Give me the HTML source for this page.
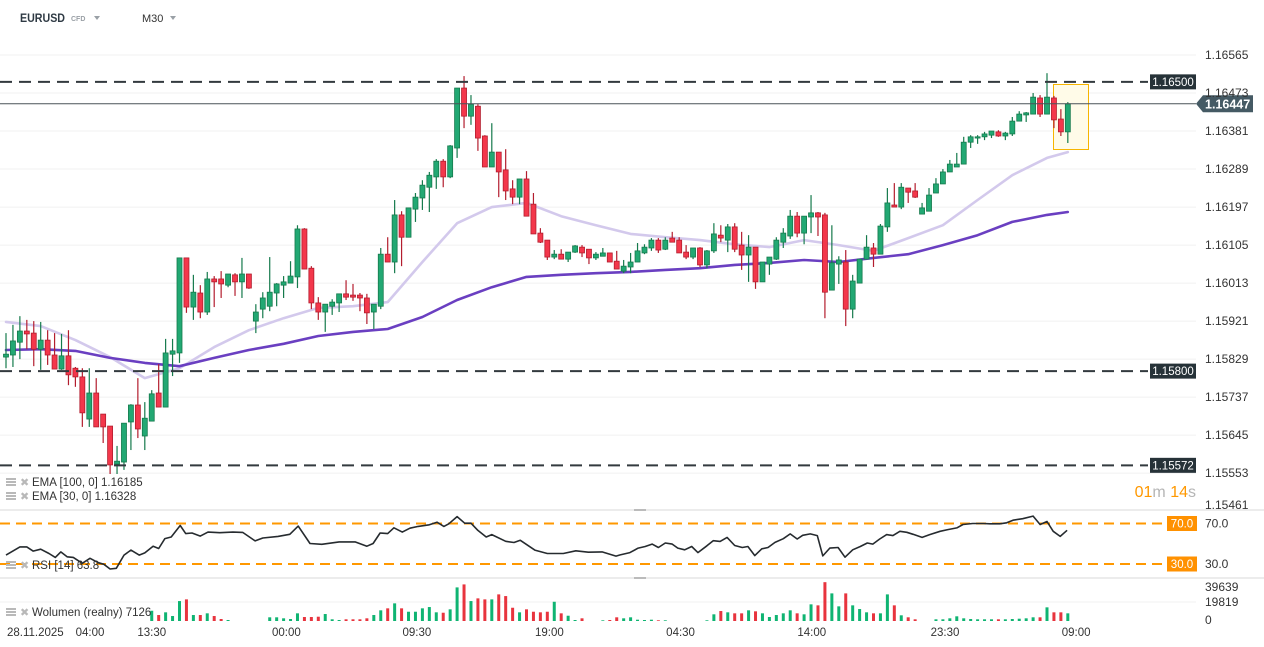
<!DOCTYPE html>
<html><head><meta charset="utf-8"><style>
html,body{margin:0;padding:0;background:#fff;overflow:hidden}
svg{display:block;font-family:"Liberation Sans",Arial,sans-serif}
</style></head><body>
<svg id="chart" width="1264" height="647" viewBox="0 0 1264 647" xmlns="http://www.w3.org/2000/svg">
<rect x="0" y="0" width="1264" height="647" fill="#fff"/>
<g>
<text x="20" y="22" font-size="11.5" font-weight="bold" fill="#2f3a44" textLength="45" lengthAdjust="spacingAndGlyphs">EURUSD</text>
<text x="71" y="21" font-size="7" font-weight="bold" fill="#9aa0a6">CFD</text>
<path d="M94 16 L100 16 L97 20 Z" fill="#9aa0a6"/>
<text x="142" y="22" font-size="11" fill="#333">M30</text>
<path d="M170 16 L176 16 L173 20 Z" fill="#9aa0a6"/>
</g>
<g id="grid"></g>
<g id="emas"></g>
<g id="candles"></g>
<g id="levels"></g>
<g id="axis"></g>
<g id="rsi"></g>
<g id="vol"></g>
<g id="time"></g>
<g id="legend"></g>
</svg>
<script>
const opens=[1.15834,1.15839,1.15870,1.15897,1.15892,1.15853,1.15875,1.15839,1.15805,1.15837,1.15807,1.15786,1.15684,1.15747,1.15696,1.15667,1.15575,1.15580,1.15677,1.15718,1.15643,1.15679,1.15747,1.15713,1.15841,1.15844,1.16074,1.15955,1.15989,1.15943,1.16023,1.16023,1.16008,1.16033,1.16016,1.16035,1.15921,1.15950,1.15957,1.15989,1.16008,1.16013,1.16028,1.16144,1.16049,1.15965,1.15943,1.15957,1.15965,1.15987,1.15984,1.15984,1.15977,1.15943,1.15957,1.16083,1.16064,1.16178,1.16124,1.16192,1.16219,1.16245,1.16270,1.16308,1.16270,1.16340,1.16485,1.16417,1.16441,1.16369,1.16294,1.16330,1.16287,1.16241,1.16221,1.16265,1.16204,1.16134,1.16117,1.16076,1.16083,1.16071,1.16088,1.16100,1.16095,1.16074,1.16078,1.16086,1.16066,1.16042,1.16052,1.16064,1.16086,1.16098,1.16117,1.16095,1.16122,1.16117,1.16088,1.16076,1.16098,1.16057,1.16091,1.16129,1.16117,1.16149,1.16105,1.16081,1.16100,1.16016,1.16059,1.16071,1.16112,1.16127,1.16175,1.16134,1.16173,1.16183,1.16178,1.15996,1.16059,1.16064,1.15950,1.16013,1.16071,1.16098,1.16083,1.16149,1.16202,1.16197,1.16243,1.16236,1.16180,1.16187,1.16231,1.16253,1.16282,1.16294,1.16301,1.16354,1.16364,1.16367,1.16371,1.16379,1.16369,1.16374,1.16405,1.16420,1.16422,1.16461,1.16422,1.16461,1.16410,1.16379];
const highs=[1.15892,1.15912,1.15933,1.15924,1.15921,1.15919,1.15899,1.15892,1.15890,1.15899,1.15810,1.15807,1.15807,1.15783,1.15696,1.15667,1.15619,1.15674,1.15720,1.15783,1.15725,1.15754,1.15817,1.15878,1.15878,1.16074,1.16074,1.16033,1.16008,1.16040,1.16030,1.16042,1.16035,1.16037,1.16074,1.16035,1.15962,1.15991,1.16076,1.16013,1.16030,1.16066,1.16153,1.16146,1.16054,1.15979,1.15962,1.15974,1.15987,1.16020,1.16011,1.15989,1.15987,1.15962,1.16098,1.16124,1.16214,1.16187,1.16195,1.16231,1.16262,1.16282,1.16313,1.16313,1.16347,1.16485,1.16514,1.16468,1.16446,1.16371,1.16400,1.16330,1.16337,1.16262,1.16265,1.16284,1.16231,1.16146,1.16117,1.16093,1.16095,1.16088,1.16105,1.16105,1.16095,1.16088,1.16098,1.16086,1.16091,1.16069,1.16086,1.16110,1.16107,1.16122,1.16122,1.16124,1.16137,1.16124,1.16105,1.16093,1.16100,1.16093,1.16158,1.16153,1.16156,1.16158,1.16137,1.16129,1.16100,1.16064,1.16076,1.16124,1.16146,1.16190,1.16185,1.16175,1.16226,1.16185,1.16183,1.16153,1.16078,1.16093,1.16033,1.16071,1.16129,1.16110,1.16156,1.16243,1.16255,1.16255,1.16243,1.16255,1.16207,1.16243,1.16267,1.16289,1.16311,1.16328,1.16367,1.16371,1.16371,1.16379,1.16381,1.16383,1.16379,1.16415,1.16429,1.16427,1.16473,1.16468,1.16521,1.16466,1.16434,1.16451];
const lows=[1.15807,1.15810,1.15829,1.15853,1.15812,1.15803,1.15815,1.15805,1.15803,1.15766,1.15762,1.15665,1.15665,1.15665,1.15626,1.15551,1.15551,1.15561,1.15609,1.15638,1.15609,1.15679,1.15713,1.15713,1.15788,1.15820,1.15941,1.15924,1.15928,1.15936,1.15955,1.15977,1.16003,1.15982,1.15977,1.15999,1.15892,1.15928,1.15945,1.15957,1.15977,1.16013,1.16001,1.16047,1.15950,1.15924,1.15895,1.15936,1.15943,1.15972,1.15970,1.15945,1.15914,1.15902,1.15950,1.16064,1.16037,1.16054,1.16124,1.16161,1.16190,1.16185,1.16241,1.16245,1.16267,1.16316,1.16388,1.16396,1.16333,1.16294,1.16294,1.16221,1.16214,1.16204,1.16204,1.16175,1.16132,1.16110,1.16069,1.16071,1.16071,1.16064,1.16086,1.16076,1.16059,1.16069,1.16078,1.16064,1.16047,1.16037,1.16037,1.16064,1.16083,1.16091,1.16086,1.16093,1.16112,1.16086,1.16071,1.16071,1.16052,1.16049,1.16086,1.16112,1.16088,1.16088,1.16045,1.16016,1.15999,1.16016,1.16033,1.16069,1.16098,1.16120,1.16124,1.16107,1.16134,1.16127,1.15928,1.15996,1.16011,1.15909,1.15928,1.16013,1.16071,1.16052,1.16083,1.16137,1.16197,1.16192,1.16207,1.16219,1.16180,1.16187,1.16231,1.16253,1.16282,1.16294,1.16301,1.16340,1.16350,1.16359,1.16364,1.16367,1.16359,1.16369,1.16405,1.16403,1.16422,1.16415,1.16422,1.16388,1.16369,1.16352];
const closes=[1.15841,1.15873,1.15897,1.15890,1.15853,1.15875,1.15839,1.15805,1.15837,1.15791,1.15786,1.15699,1.15747,1.15665,1.15665,1.15573,1.15582,1.15674,1.15718,1.15660,1.15686,1.15745,1.15713,1.15844,1.15849,1.16074,1.15955,1.15991,1.15943,1.16023,1.16016,1.16011,1.16035,1.16016,1.16035,1.16001,1.15943,1.15977,1.15991,1.16011,1.16016,1.16030,1.16144,1.16047,1.15965,1.15943,1.15962,1.15967,1.15987,1.15979,1.15979,1.15977,1.15941,1.15962,1.16083,1.16064,1.16178,1.16124,1.16195,1.16221,1.16250,1.16274,1.16308,1.16270,1.16345,1.16485,1.16417,1.16446,1.16364,1.16294,1.16330,1.16282,1.16236,1.16221,1.16265,1.16175,1.16132,1.16112,1.16076,1.16083,1.16071,1.16088,1.16103,1.16086,1.16074,1.16083,1.16086,1.16064,1.16047,1.16054,1.16064,1.16091,1.16100,1.16117,1.16093,1.16117,1.16112,1.16086,1.16076,1.16098,1.16057,1.16091,1.16132,1.16122,1.16149,1.16095,1.16081,1.16100,1.16016,1.16064,1.16076,1.16117,1.16134,1.16175,1.16134,1.16175,1.16183,1.16173,1.15991,1.16062,1.16069,1.15950,1.16018,1.16071,1.16100,1.16083,1.16151,1.16207,1.16197,1.16245,1.16233,1.16221,1.16195,1.16226,1.16253,1.16282,1.16301,1.16301,1.16354,1.16367,1.16367,1.16374,1.16381,1.16369,1.16376,1.16405,1.16422,1.16425,1.16463,1.16422,1.16463,1.16408,1.16379,1.16447];
const volumes=[0,0,0,0,0,0,0,0,0,0,0,0,0,0,0,0,0,0,0,0,0,10700,6240,9050,5200,20800,22570,6240,6240,8000,5200,2080,1040,0,0,0,0,0,3850,3850,2800,2080,8000,4160,4160,4470,7280,1770,1040,1770,1770,1770,2800,6240,11130,13210,18410,13210,9670,9670,13210,14560,9050,8630,12170,35050,38170,20800,23610,22570,22570,27770,26000,13830,9050,12170,9670,9050,9670,20070,8000,5510,1040,2800,0,0,700,1040,3850,2800,3850,1350,1040,1350,730,730,0,0,0,0,0,730,6970,10400,9050,8000,8000,11130,10090,8000,4160,6240,8000,11130,8000,6970,17370,16330,40500,28810,15290,28810,16330,12480,9050,8000,8000,27770,16330,5930,3850,1770,0,0,1770,1770,2800,4890,2800,2080,1770,1770,1770,1770,1770,2080,2390,2800,3850,3850,14250,9050,9050,8000];
const emaIdx=[0,5,10,15,20,25,30,35,40,45,50,55,60,65,70,75,80,85,90,95,100,105,110,115,120,125,130,135,140,145,150,153];
const ema30=[1.15919,1.15909,1.15875,1.15834,1.15783,1.15807,1.15858,1.15899,1.15928,1.15953,1.15957,1.15967,1.16064,1.16158,1.16197,1.16207,1.16175,1.16153,1.16132,1.16124,1.16117,1.16107,1.16100,1.16117,1.16105,1.16091,1.16122,1.16153,1.16214,1.16274,1.16316,1.16330];
const ema100=[1.15851,1.15853,1.15849,1.15832,1.15820,1.15812,1.15832,1.15851,1.15866,1.15885,1.15895,1.15902,1.15931,1.15972,1.16003,1.16028,1.16033,1.16037,1.16040,1.16045,1.16049,1.16057,1.16062,1.16069,1.16064,1.16074,1.16083,1.16105,1.16129,1.16161,1.16178,1.16185];
const rsiIdx=[0,2,3,3.9,5,6.2,7.1,7.9,8.8,9.7,11,12.1,13.3,14.1,15,15.9,17,18,19.2,20,21.2,22,22.9,23.8,25.1,25.9,26.8,28,29.1,30.8,32.7,34.1,35.9,37,39.2,40.9,42.1,43.8,45.5,48,50.3,52,52.9,53.9,55,55.9,57.1,58.2,59.4,61,62.1,63.1,63.8,65,66.1,67,68,69.2,70,72,73.2,74.1,76.2,78,80.3,82.1,83.9,85.9,87.9,88.5,89.9,91.1,92.1,93.1,94,95,96,96.8,97.8,98.8,99.7,101,101.9,102.9,103.9,105,106.1,106.9,107.9,108.9,109.8,110.8,112,113,114,114.8,115.9,116.9,117.7,118.7,119.9,120.9,122,123.1,124.1,124.9,125.9,126.9,127.8,128.8,129.8,130.7,132,133.1,134.6,135.7,137,137.9,139.3,140.8,141.8,143.2,144.2,145.1,146.5,148,149,150,150.9,151.9,152.9];
const rsiVal=[38.8,46.9,46.9,42.7,44.6,40.4,36.5,42,37.1,36.5,30.7,35.6,31.3,29.7,25.1,25.8,38.8,43.7,38.8,41,47.6,45.3,55.1,56.7,68,60,60.6,57.6,61.5,60.9,61.5,61.2,52.8,55.7,57.3,59.3,67.4,50.2,49.5,51.8,51.8,47.6,50.2,60.6,60,65.8,61.5,65.4,67.1,68.7,71.3,67.1,69.7,76.8,70.3,70.3,63.2,56.7,59,52.4,51.2,53.4,43.7,40.4,40.4,43,41.7,42,37.8,39,41.3,45.7,47.3,49.7,46.3,50.7,49.7,45.7,44,47.3,41.3,48,53,52.3,56.3,48.3,46.3,47.3,38.3,45,46.3,51.3,55,59.7,54.7,58.3,59.7,58,38,45.7,46.3,36.7,44,47.3,50.7,49.7,54.7,59,58,62.3,61.3,59.3,56.3,59,62.3,64,65.7,69,70,70,69.7,69.7,70.7,73.3,74.7,77.3,69,72,62.3,57.3,63.3];
const priceTicks=[1.16565,1.16473,1.16381,1.16289,1.16197,1.16105,1.16013,1.15921,1.15829,1.15737,1.15645,1.15553,1.15461];
const levelValues=[1.16500,1.15800,1.15572];
const lastPrice=1.16447;
const rsiLevels=[70,30];
const volTicks=[39639,19819,0];
const timeIdx=[21,40.4,59.2,78.3,97.2,116.1,135.3,154.2];
const timeLabels=["13:30","00:00","09:30","19:00","04:30","14:00","23:30","09:00"];

const NS="http://www.w3.org/2000/svg";
function mk(tag,attrs,parent,txt){const e=document.createElementNS(NS,tag);for(const k in attrs)e.setAttribute(k,attrs[k]);if(txt!==undefined)e.textContent=txt;parent.appendChild(e);return e;}
const X0=6,STEP=6.94;
function xS(i){return X0+i*STEP;}
function yP(p){return 55+(1.16565-p)/0.0000242;}
function yR(v){return 523.5+(70-v)*1.0125;}
function yV(v){return 621-v/39639*38;}
const G=id=>document.getElementById(id);

const grid=G('grid'),axis=G('axis');
priceTicks.forEach((p,k)=>{
  const y=yP(p);
  if(y<508){const l=mk('line',{x1:0,x2:1196,y1:y,y2:y,stroke:'#f0f0f0','stroke-width':1},grid);
  
  }
  const t=mk('text',{x:1205,y:Math.min(y,505)+4,'font-size':12,fill:'#333'},axis,p.toFixed(5));
  
  
});
[510,578].forEach(y=>{const l=mk('line',{x1:0,x2:1264,y1:y,y2:y,stroke:'#d8d8d8','stroke-width':1},grid);


const h=mk('rect',{x:634,y:y-1,width:12,height:2,fill:'#bbb'},grid);

});

const emaG=G('emas');
function emaPath(vals,color,name){
  let d='';vals.forEach((v,k)=>{d+=(k?'L':'M')+xS(emaIdx[k]).toFixed(1)+' '+yP(v).toFixed(1);});
  const p=mk('path',{d:d,fill:'none',stroke:color,'stroke-width':2.6,'stroke-linejoin':'round','stroke-linecap':'round'},emaG);
  
  
}
emaPath(ema30,'#d3c9ec','ema-30-line');
emaPath(ema100,'#6a3fc1','ema-100-line');

const hb=mk('rect',{x:1053.5,y:84.5,width:35,height:65,fill:'#fffbe8',stroke:'#f7b500','stroke-width':1},emaG);



const cg=G('candles');
opens.forEach((o,i)=>{
  const c=closes[i],up=c>=o,x=xS(i);
  const fill=up?'#22a873':'#f3374b',st=up?'#157a4c':'#b31d2e';
  const g=mk('g',{},cg);
  
  
  mk('line',{x1:x,x2:x,y1:yP(highs[i]),y2:yP(lows[i]),stroke:st,'stroke-width':1.2},g);
  const yt=yP(Math.max(o,c)),yb=yP(Math.min(o,c));
  mk('rect',{x:x-2.5,y:yt,width:5,height:Math.max(1,yb-yt),fill:fill,stroke:st,'stroke-width':0.8},g);
});

const lv=G('levels');
levelValues.forEach(v=>{
  const y=yP(v);
  const l=mk('line',{x1:0,x2:1148,y1:y,y2:y,stroke:'#333a3f','stroke-width':2,'stroke-dasharray':'12 7'},lv);
  
  
  const b=mk('rect',{x:1150,y:y-7.5,width:46,height:15,fill:'#263238'},lv);
  
  
  const t=mk('text',{x:1173,y:y+4,'font-size':11.5,fill:'#fff','text-anchor':'middle'},lv,v.toFixed(5));
  
  
});
{const y=yP(lastPrice);
 const l=mk('line',{x1:0,x2:1196,y1:y,y2:y,stroke:'#4a5358','stroke-width':1},lv);
 
 
 const p=mk('path',{d:`M1196 ${y} L1203 ${y-8.5} L1253 ${y-8.5} L1253 ${y+8.5} L1203 ${y+8.5} Z`,fill:'#455a64'},lv);
 
 
 const t=mk('text',{x:1205,y:y+4.5,'font-size':12.5,'font-weight':'bold',fill:'#fff'},lv,lastPrice.toFixed(5));
 
 }
{const t=mk('text',{x:1196,y:497,'font-size':16,'text-anchor':'end'},lv);
 
 
 mk('tspan',{fill:'#ff9800'},t,'01');mk('tspan',{fill:'#b5b5b5'},t,'m ');mk('tspan',{fill:'#ff9800'},t,'14');mk('tspan',{fill:'#b5b5b5'},t,'s');}

const rg=G('rsi');
rsiLevels.forEach(v=>{
  const y=yR(v);
  const l=mk('line',{x1:0,x2:1162,y1:y,y2:y,stroke:'#ff9800','stroke-width':2,'stroke-dasharray':'10 6'},rg);
  
  
  const b=mk('rect',{x:1167,y:y-7.5,width:30,height:15,fill:'#ff9100'},rg);
  
  
  const t=mk('text',{x:1182,y:y+4,'font-size':11.5,fill:'#fff','text-anchor':'middle'},rg,v.toFixed(1));
  
  
  const a=mk('text',{x:1205,y:y+4,'font-size':12,fill:'#333'},rg,v.toFixed(1));
  
  
});
{let d='';rsiVal.forEach((v,k)=>{d+=(k?'L':'M')+xS(rsiIdx[k]).toFixed(1)+' '+yR(v).toFixed(1);});
 const p=mk('path',{d:d,fill:'none',stroke:'#262b2f','stroke-width':1.6,'stroke-linejoin':'round'},rg);
 
 }

const vg=G('vol');
volTicks.forEach(v=>{
  const y=yV(v);
  if(v>0&&v<39639){const l=mk('line',{x1:0,x2:1196,y1:y,y2:y,stroke:'#f0f0f0'},vg);
  
  }
  const t=mk('text',{x:1205,y:Math.max(y,587)+4+(v===0?-1:0),'font-size':12,fill:'#333'},vg,String(v));
  
  
});
volumes.forEach((v,i)=>{
  if(!v)return;
  const up=closes[i]>=opens[i];
  const y=yV(v);
  const r=mk('rect',{x:xS(i)-1.5,y:y,width:3,height:621-y,fill:up?'#0fb472':'#e8343e'},vg);
  
  
});

const tg=G('time');
{const t=mk('text',{x:7,y:636,'font-size':11.5,fill:'#333'},tg,'28.11.2025');
 
 
 const t2=mk('text',{x:90,y:636,'font-size':11.5,fill:'#333','text-anchor':'middle'},tg,'04:00');
 
 }
timeLabels.forEach((s,k)=>{
  const t=mk('text',{x:xS(timeIdx[k]),y:636,'font-size':11.5,fill:'#333','text-anchor':'middle'},tg,s);
  
  
});

const lg=G('legend');
function legend(y,txt,name){
  const g=mk('g',{},lg);
  
  
  for(let r=0;r<3;r++)mk('rect',{x:6,y:y-7+r*3,width:10,height:2,fill:'#b9b9b9'},g);
  mk('text',{x:20,y:y+1,'font-size':11,fill:'#b9b9b9'},g,'✖');
  mk('text',{x:32,y:y+1,'font-size':11.5,fill:'#333'},g,txt);
}
legend(485,'EMA [100,  0] 1.16185','legend-ema-100');
legend(499,'EMA [30,  0] 1.16328','legend-ema-30');
legend(568,'RSI  [14]  63.8','legend-rsi');
legend(615,'Wolumen  (realny)  7126','legend-volume');
</script>
</body></html>
